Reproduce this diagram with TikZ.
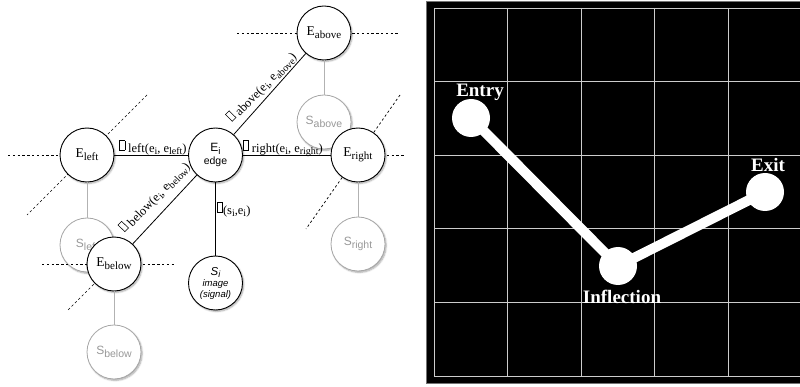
\documentclass[tikz,border=0pt]{standalone}
\usepackage{fontspec}
\setmainfont{Liberation Serif}
\setsansfont{Liberation Sans}
\usetikzlibrary{shadows.blur}

% lowered subscript: #1 drop, #2 size, #3 text
\newcommand{\sbx}[3]{\raisebox{-#1}{\fontsize{#2}{#2}\selectfont #3}}
% empty glyph box used as the weight symbol
\newcommand{\gbox}{\raisebox{2.6pt}{\setlength{\fboxsep}{0pt}\setlength{\fboxrule}{0.55pt}\fbox{\rule{0pt}{9pt}\hspace{4.6pt}}}}

\begin{document}
\begin{tikzpicture}[x=1pt,y=-1pt,
  shade it/.style={blur shadow={shadow xshift=1.2pt, shadow yshift=-1.4pt,
      shadow blur radius=1.6pt, shadow blur steps=6, shadow opacity=35}},
  enode/.style={circle, draw=black, line width=0.9pt, fill=white,
      minimum size=54pt, inner sep=0pt, shade it,
      font=\fontsize{13.5}{14}\selectfont},
  snode/.style={circle, draw=black!35, line width=0.8pt, fill=white,
      minimum size=54pt, inner sep=0pt, text=black!40, shade it,
      font=\sffamily\fontsize{12}{12}\selectfont},
  guide/.style={dash pattern=on 2.4pt off 2.4pt, line width=0.7pt},
  link/.style={line width=0.8pt},
  slink/.style={draw=black!30, line width=0.9pt},
  wlabel/.style={font=\fontsize{12.5}{13}\selectfont, inner sep=0.6pt},
  gridline/.style={draw=black!20, line width=0.9pt},
  dot/.style={circle, fill=white, minimum size=38pt, inner sep=0pt},
  ptlabel/.style={text=white, inner sep=0pt, font=\bfseries\fontsize{19}{19}\selectfont},
  route/.style={draw=white, line width=10pt, line join=round}
]
\useasboundingbox (0,0) rectangle (800,387);

% ---------- left panel: neighbourhood of an edge ----------
% centres of the neighbouring edges
\coordinate (cabove) at (324,33);
\coordinate (cleft)  at (87,155);
\coordinate (cright) at (358,155);
\coordinate (cbelow) at (114,264);

% signal nodes of the neighbours (drawn first, underneath)
\node[snode] (sabove) at (324,122) {S\sbx{3pt}{10.5}{above}};
\node[snode] (sleft)  at (87,245)  {S\sbx{3pt}{10.5}{left}};
\node[snode] (sright) at (358,244) {S\sbx{3pt}{10.5}{right}};
\node[snode] (sbelow) at (114,352) {S\sbx{3pt}{10.5}{below}};

% dashed guide lines through the neighbouring edges
\coordinate (gaL) at (237,33);   \coordinate (gaR) at (400,33);
\coordinate (glL) at (8,155);
\coordinate (glU) at (147,95);   \coordinate (glD) at (27,215);
\coordinate (grR) at (405,155);
\coordinate (grU) at (400,95);   \coordinate (grD) at (306,229);
\coordinate (gbL) at (42,264);   \coordinate (gbR) at (175,264);
\coordinate (gbD) at (67,311);
\draw[guide] (gaL) -- (gaR);
\draw[guide] (glL) -- (cleft);
\draw[guide] (glU) -- (glD);
\draw[guide] (cright) -- (grR);
\draw[guide] (grU) -- (grD);
\draw[guide] (gbL) -- (gbR);
\draw[guide] (cbelow) -- (gbD);

% edge nodes
\node[enode] (eabove) at (cabove) {E\sbx{3pt}{11}{above}};
\node[enode] (eleft)  at (cleft)  {E\sbx{3pt}{11}{left}};
\node[enode] (eright) at (cright) {E\sbx{3pt}{11}{right}};
\node[enode] (ebelow) at (cbelow) {E\sbx{3pt}{11}{below}};
\node[enode, align=center, font=\sffamily\fontsize{10.5}{13}\selectfont]
  (ei) at (215.5,155) {{\fontsize{12}{12}\selectfont E\sbx{2.5pt}{9.5}{i}}\\edge};
\node[enode, align=center, font=\sffamily\itshape\fontsize{9.5}{11}\selectfont]
  (si) at (215.5,283) {{\fontsize{11.5}{12}\selectfont S\sbx{2pt}{9}{i}}\\image\\(signal)};

% edge-to-signal links
\draw[slink] (eabove) -- (sabove);
\draw[slink] (eleft) -- (sleft);
\draw[slink] (eright) -- (sright);
\draw[slink] (ebelow) -- (sbelow);

% weighted links of the central edge
\draw[link] (ei) -- (eleft);
\draw[link] (ei) -- (eright);
\draw[link] (ei) -- (eabove);
\draw[link] (ebelow) -- (ei);
\draw[link] (ei) -- (si);

\node[wlabel, anchor=base] (lleft) at (153,152.5)
  {\gbox\ left(e\sbx{2.5pt}{10}{i}, e\sbx{2.5pt}{10}{left})};
\node[wlabel, anchor=base] (lright) at (283,152.5)
  {\gbox\ right(e\sbx{2.5pt}{10}{i}, e\sbx{2.5pt}{10}{right})};
\node[wlabel, rotate=46] (labove) at (262,87)
  {\gbox\ above(e\sbx{2.5pt}{10}{i}, e\sbx{2.5pt}{10}{above})};
\node[wlabel, rotate=46] (lbelow) at (155,197)
  {\gbox\ below(e\sbx{2.5pt}{10}{i}, e\sbx{2.5pt}{10}{below})};
\node[wlabel, anchor=base west] (lsig) at (216.5,214.5)
  {\gbox(s\sbx{2.5pt}{10}{i},e\sbx{2.5pt}{10}{i})};

% ---------- right panel: path over a grid ----------
\fill[black, draw=black!55, line width=0.8pt] (426,1) rectangle (806,383);
\foreach \i in {0,...,5}
  \draw[gridline] (434+73.6*\i,8) -- (434+73.6*\i,376);
\foreach \j in {0,...,5}
  \draw[gridline] (434,8+73.6*\j) -- (806,8+73.6*\j);

\node[dot] (entry) at (471,118) {};
\node[dot] (infl)  at (618,266) {};
\node[dot] (exit)  at (765,192) {};
\draw[route] (entry.center) -- (infl.center) -- (exit.center);

\node[ptlabel] (entrylabel) at (480,92)  {Entry};
\node[ptlabel] (infllabel)  at (622,297) {Inflection};
\node[ptlabel] (exitlabel)  at (768,165) {Exit};
\end{tikzpicture}
\end{document}
